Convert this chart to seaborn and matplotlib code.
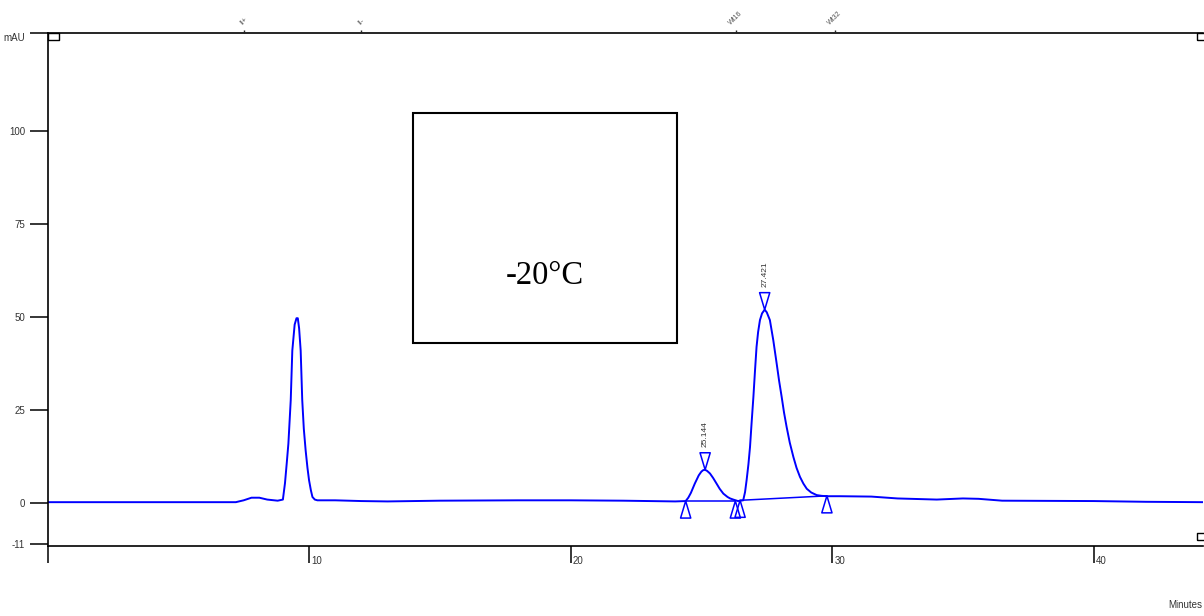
import numpy as np
import pandas as pd
import matplotlib
matplotlib.use("Agg")
import matplotlib.pyplot as plt
from matplotlib.path import Path
from matplotlib.patches import Rectangle
from matplotlib.transforms import ScaledTranslation
import seaborn as sns

# ---------------- data ----------------
time_min = [0.0, 5.0, 7.2, 7.5, 7.8, 8.1, 8.4, 8.8, 9.0, 9.08, 9.15, 9.21, 9.30,
            9.36, 9.45, 9.52, 9.57, 9.62, 9.68, 9.74, 9.80, 9.87, 9.94, 10.0,
            10.07, 10.13, 10.22, 10.32, 11.0, 12.0, 13.0, 15.0, 18.0, 20.0,
            22.0, 24.0, 24.4, 24.5, 24.6, 24.75, 24.9, 25.0, 25.07, 25.14,
            25.22, 25.33, 25.45, 25.58, 25.7, 25.84, 26.0, 26.1, 26.22, 26.4,
            26.6, 26.67, 26.73, 26.8, 26.86, 26.92, 26.99, 27.05, 27.11, 27.17,
            27.24, 27.32, 27.42, 27.5, 27.62, 27.75, 27.88, 27.97, 28.07,
            28.16, 28.26, 28.38, 28.52, 28.64, 28.77, 28.9, 29.03, 29.2,
            29.41, 29.6, 29.8, 30.3, 31.5, 32.5, 34.0, 35.0, 35.6, 36.5,
            40.0, 42.0, 44.2]
signal_mau = [0.3, 0.3, 0.3, 0.8, 1.5, 1.5, 1.0, 0.7, 1.0, 5.4, 11.0, 16.0, 27.7,
              41.0, 48.0, 49.7, 49.7, 47.0, 41.0, 27.7, 20.0, 14.2, 9.5, 6.2,
              3.5, 1.7, 1.0, 0.8, 0.8, 0.6, 0.5, 0.7, 0.8, 0.8,
              0.7, 0.5, 0.6, 1.5, 2.8, 5.3, 7.5, 8.5, 8.9, 9.0,
              8.7, 8.0, 6.8, 5.3, 3.9, 2.6, 1.7, 1.3, 1.0, 0.6,
              0.8, 3.0, 6.2, 10.5, 15.1, 21.5, 28.6, 35.5, 42.0, 46.0,
              49.2, 51.0, 52.0, 51.3, 49.2, 43.8, 37.5, 33.0, 28.6,
              24.4, 20.5, 16.3, 12.4, 9.5, 7.1, 5.3, 3.9, 2.9,
              2.2, 2.0, 1.9, 1.9, 1.8, 1.3, 1.0, 1.3, 1.2, 0.7,
              0.6, 0.4, 0.3]

# integration baselines (start/end of peaks)
base1_t = [24.4, 26.3]
base1_v = [0.6, 0.6]
base2_t = [26.48, 29.8]
base2_v = [0.8, 2.0]

# peak start/end markers
bound_t = [24.4, 26.3, 26.48, 29.8]
bound_v = [0.6, 0.6, 0.8, 2.0]

# apex markers and retention time labels
apex_t = [25.144, 27.421]
apex_v = [9.0, 52.0]
apex_labels = ["25.144", "27.421"]

# timed events on top axis
event_t = [7.5, 12.0, 26.32, 30.1]
event_labels = ["II+", "II-", "Wt16", "Wt32"]

# x / y ticks
x_ticks = [0, 10, 20, 30, 40]
x_ticklabels = ["", "10", "20", "30", "40"]
y_ticks = [-11, 0, 25, 50, 75, 100, 126.3]
y_ticklabels = ["-11", "0", "25", "50", "75", "100", "mAU"]

annotation_text = "-20\u00b0C"
box_x = [13.97, 24.06]
box_y = [43.06, 104.8]

# ---------------- plot ----------------
sns.set_style("ticks")
plt.rcParams["font.family"] = ["Liberation Sans", "DejaVu Sans"]

fig = plt.figure(figsize=(12.04, 6.16), dpi=100)
ax = fig.add_axes([47.5 / 1204, 1 - 546 / 616, (1203 - 47.5) / 1204, (546 - 33) / 616])

blue = "#0000ff"
df = pd.DataFrame({"t": time_min, "v": signal_mau})
sns.lineplot(data=df, x="t", y="v", ax=ax, color=blue, lw=1.4, sort=False,
             estimator=None)
sns.lineplot(x=base1_t, y=base1_v, ax=ax, color=blue, lw=1.1, estimator=None)
sns.lineplot(x=base2_t, y=base2_v, ax=ax, color=blue, lw=1.1, estimator=None)

up_tri = Path([(0, 0), (-0.3, -1), (0.3, -1), (0, 0)],
              [Path.MOVETO, Path.LINETO, Path.LINETO, Path.CLOSEPOLY])
down_tri = Path([(0, 0), (-0.3, 1), (0.3, 1), (0, 0)],
                [Path.MOVETO, Path.LINETO, Path.LINETO, Path.CLOSEPOLY])

sns.scatterplot(x=bound_t, y=bound_v, ax=ax, marker=up_tri, s=600,
                facecolor="none", edgecolor=blue, linewidth=1.1, zorder=5)
sns.scatterplot(x=apex_t, y=apex_v, ax=ax, marker=down_tri, s=600,
                facecolor="none", edgecolor=blue, linewidth=1.1, zorder=5)

for t, v, lab in zip(apex_t, apex_v, apex_labels):
    ax.annotate(lab, (t, v), xytext=(0, 16.5), textcoords="offset points",
                rotation=90, ha="center", va="bottom", fontsize=6,
                color="#333333")

# box with temperature
ax.add_patch(Rectangle((box_x[0], box_y[0]), box_x[1] - box_x[0],
                       box_y[1] - box_y[0], fill=False, ec="black", lw=1.5,
                       zorder=4))
ax.text((box_x[0] + box_x[1]) / 2, 61.2, annotation_text, ha="center",
        va="center", fontsize=23.5, family=["Liberation Serif", "DejaVu Serif"],
        color="black")

# axes
ax.set_xlim(0, 44.18)
ax.set_ylim(-11.47, 126.3)
ax.set_xlabel("")
ax.set_ylabel("")
ax.set_xticks(x_ticks)
ax.set_xticklabels(x_ticklabels)
ax.set_yticks(y_ticks)
ax.set_yticklabels(y_ticklabels)
ax.tick_params(axis="x", direction="out", length=12.5, width=1.1, pad=-5,
               labelsize=7, labelcolor="#333333", color="black")
ax.tick_params(axis="y", direction="out", length=13, width=1.1, pad=3,
               labelsize=7, labelcolor="#333333", color="black")
for lab in ax.get_xticklabels():
    lab.set_horizontalalignment("left")
    lab.set_transform(lab.get_transform() +
                      ScaledTranslation(1.5 / 72, 0, fig.dpi_scale_trans))
ylabs = ax.get_yticklabels()
ylabs[-1].set_transform(ylabs[-1].get_transform() +
                        ScaledTranslation(0, -3 / 72, fig.dpi_scale_trans))
for side in ["left", "bottom", "top"]:
    ax.spines[side].set_linewidth(1.2)
    ax.spines[side].set_color("black")
ax.spines["right"].set_visible(False)

ax2 = ax.twiny()
ax2.set_xlim(ax.get_xlim())
ax2.set_xticks(event_t)
ax2.set_xticklabels(event_labels, rotation=45, fontsize=5, color="#555555")
ax2.tick_params(axis="x", direction="out", length=2.5, width=1.0, pad=2)
for s in ax2.spines.values():
    s.set_visible(False)

# small event squares
sq = Path([(-1, -0.6), (1, -0.6), (1, 0.6), (-1, 0.6), (-1, -0.6)],
          [Path.MOVETO, Path.LINETO, Path.LINETO, Path.LINETO, Path.CLOSEPOLY])
sq_t = [0.24, 44.18, 44.18]
sq_v = [125.3, 125.3, -9.0]
ax.scatter(sq_t, sq_v, marker=sq, s=64, facecolor="none", edgecolor="black",
           linewidth=1.0, clip_on=False, zorder=6)

fig.text(1168 / 1204, 1 - 605 / 616, "Minutes", ha="left", va="center",
         fontsize=7, color="#333333")

fig.savefig("out.png", dpi=100)
